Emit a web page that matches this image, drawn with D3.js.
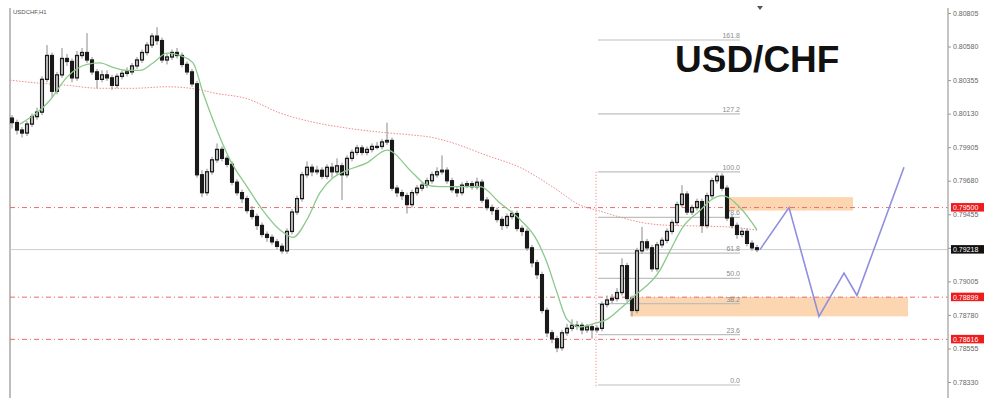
<!DOCTYPE html>
<html><head><meta charset="utf-8">
<script src="https://cdn.jsdelivr.net/npm/d3@7/dist/d3.min.js"></script>
<style>body{margin:0;background:#fff}svg{display:block}</style>
</head><body><svg id="c" width="1000" height="412"></svg>
<script>
// ---- data (USDCHF H1) ----
const symbolLabel = "USDCHF,H1";
const titleText = "USD/CHF";
const firstOpen = 0.8010; // open of first bar; later bars open at previous close
const closes = [
0.8007,0.8002,0.8000,0.8006,0.8011,0.8014,0.8036,0.8052,0.8028,0.8039,
0.8050,0.8048,0.8037,0.8052,0.8054,0.8049,0.8041,0.8036,0.8039,0.8037,
0.8032,0.8038,0.8040,0.8041,0.8045,0.8049,0.8054,0.8059,0.8065,0.8062,
0.8049,0.8051,0.8054,0.8052,0.8046,0.8041,0.8033,0.7972,0.7960,0.7974,
0.7982,0.7989,0.7983,0.7979,0.7967,0.7960,0.7956,0.7948,0.7944,0.7938,
0.7932,0.7930,0.7927,0.7924,0.7921,0.7934,0.7947,0.7956,0.7972,0.7977,
0.7974,0.7975,0.7971,0.7977,0.7974,0.7978,0.7972,0.7983,0.7987,0.7990,
0.7987,0.7989,0.7991,0.7991,0.7994,0.7995,0.7963,0.7960,0.7958,0.7952,
0.7960,0.7963,0.7965,0.7968,0.7972,0.7974,0.7975,0.7968,0.7962,0.7960,
0.7965,0.7966,0.7964,0.7967,0.7955,0.7950,0.7948,0.7942,0.7938,0.7944,
0.7946,0.7936,0.7934,0.7923,0.7913,0.7905,0.7881,0.7866,0.7862,0.7856,
0.7866,0.7869,0.7871,0.7871,0.7868,0.7870,0.7868,0.7869,0.7885,0.7888,
0.7889,0.7893,0.7911,0.7889,0.7881,0.7921,0.7927,0.7923,0.7909,0.7925,
0.7928,0.7934,0.7940,0.7952,0.7959,0.7947,0.7950,0.7954,0.7938,0.7958,
0.7968,0.7971,0.7963,0.7943,0.7938,0.7932,0.7934,0.7926,0.7923,0.79218];
const highs = [
0.8012,0.8009,0.8004,0.8008,0.8013,0.8017,0.8038,0.8059,0.8054,0.8041,
0.8057,0.8053,0.8050,0.8055,0.8057,0.8067,0.8051,0.8043,0.8042,0.8042,
0.8039,0.8040,0.8042,0.8044,0.8047,0.8051,0.8056,0.8061,0.8067,0.8071,
0.8064,0.8053,0.8056,0.8057,0.8054,0.8048,0.8043,0.8035,0.7975,0.7976,
0.7984,0.7993,0.7991,0.7985,0.7981,0.7969,0.7962,0.7958,0.7951,0.7946,
0.7940,0.7934,0.7932,0.7929,0.7926,0.7936,0.7949,0.7958,0.7974,0.7981,
0.7979,0.7978,0.7977,0.7979,0.7980,0.7983,0.7980,0.7985,0.7989,0.7992,
0.7992,0.7991,0.7993,0.7994,0.7996,0.8007,0.7997,0.7965,0.7962,0.7960,
0.7962,0.7965,0.7967,0.7970,0.7974,0.7977,0.7985,0.7977,0.7970,0.7964,
0.7967,0.7968,0.7968,0.7970,0.7969,0.7957,0.7952,0.7950,0.7944,0.7946,
0.7948,0.7948,0.7938,0.7936,0.7925,0.7915,0.7907,0.7883,0.7868,0.7864,
0.7868,0.7872,0.7875,0.7874,0.7873,0.7872,0.7872,0.7871,0.7887,0.7891,
0.7892,0.7896,0.7916,0.7913,0.7891,0.7923,0.7937,0.7929,0.7925,0.7927,
0.7930,0.7936,0.7942,0.7954,0.7965,0.7961,0.7952,0.7956,0.7956,0.7960,
0.7970,0.7973,0.7973,0.7965,0.7945,0.7940,0.7936,0.7936,0.7928,0.7925];
const lows = [
0.8003,0.7999,0.7997,0.7998,0.8004,0.8009,0.8012,0.8034,0.8024,0.8026,
0.8037,0.8045,0.8034,0.8035,0.8050,0.8047,0.8039,0.8030,0.8034,0.8035,
0.8029,0.8030,0.8036,0.8038,0.8039,0.8043,0.8047,0.8052,0.8057,0.8059,
0.8047,0.8046,0.8049,0.8050,0.8044,0.8039,0.8031,0.7970,0.7957,0.7958,
0.7972,0.7980,0.7981,0.7977,0.7965,0.7958,0.7953,0.7946,0.7942,0.7935,
0.7930,0.7927,0.7925,0.7922,0.7919,0.7919,0.7932,0.7945,0.7954,0.7970,
0.7971,0.7972,0.7969,0.7969,0.7970,0.7972,0.7955,0.7970,0.7981,0.7985,
0.7985,0.7985,0.7987,0.7989,0.7989,0.7992,0.7961,0.7957,0.7955,0.7946,
0.7950,0.7958,0.7961,0.7963,0.7966,0.7970,0.7972,0.7966,0.7960,0.7957,
0.7958,0.7963,0.7962,0.7962,0.7953,0.7948,0.7945,0.7940,0.7935,0.7936,
0.7942,0.7934,0.7931,0.7921,0.7910,0.7902,0.7879,0.7863,0.7859,0.7853,
0.7854,0.7864,0.7867,0.7868,0.7865,0.7866,0.7862,0.7866,0.7867,0.7883,
0.7886,0.7887,0.7891,0.7887,0.7877,0.7879,0.7919,0.7921,0.7907,0.7907,
0.7923,0.7926,0.7932,0.7938,0.7950,0.7945,0.7945,0.7948,0.7933,0.7936,
0.7956,0.7966,0.7961,0.7941,0.7936,0.7929,0.7930,0.7924,0.7921,0.7920];

// fast moving average (green)
const fastMaBars   = [1.6,7.6,11,15,17.6,20.2,23,25.6,28.2,31,33.6,36.2,38.2,40.2,43.6,47,50.2,53.6,56.2,59,61.6,64.2,67,71,75,80.2,83,85.6,89.6,93.6,97.6,101.6,105,107,109,111,113.6,116.2,119,121.6,124.2,129.6,131.6,134.2,137.6,140.2,142,145.6,149];
const fastMaPrices = [0.8006,0.8022,0.80375,0.8046,0.8047,0.8044,0.8042,0.8042,0.8047,0.80536,0.8052,0.8047,0.8027,0.80087,0.7982,0.7964,0.7948,0.7935,0.7930,0.7942,0.7960,0.7970,0.7975,0.7980,0.79885,0.7973,0.7965,0.7964,0.7964,0.7964,0.7953,0.7942,0.7928,0.7913,0.7893,0.7875,0.7870,0.7872,0.7875,0.7882,0.7890,0.7908,0.7921,0.7937,0.7948,0.7956,0.7958,0.7950,0.7935];
// slow moving average (red dotted)
const slowMaBars   = [-0.4,3.6,11,17.6,24.2,31,37.6,40.2,47,53.6,60.2,67,73.6,80.2,83.6,88.2,95,101.6,108.2,113.6,117.6,121.6,125.6,130.6,137.6,143.6,149];
const slowMaPrices = [0.80355,0.8034,0.8032,0.8030,0.8030,0.8031,0.8029,0.8027,0.8023,0.80134,0.80073,0.80033,0.80006,0.79986,0.79973,0.79933,0.79849,0.79769,0.79637,0.79517,0.79476,0.79436,0.79402,0.79382,0.79376,0.79369,0.79349];

const axisTicks = [0.80805,0.80580,0.80355,0.80130,0.79905,0.79680,0.79455,0.79230,0.79005,0.78780,0.78555,0.78330];
const redLevels = [0.79500,0.78899,0.78616];
const lastPrice = 0.79218;

const fibRatios = [0,23.6,38.2,50,61.8,78.6,100,127.2,161.8];
const fibLow = 0.7831, fibHigh = 0.7974;
const fibBarStart = 117.2, fibBarEnd = 145.6;

const zoneBarStart = [143,123.6];
const zoneBarEnd   = [168.2,179.2];
const zoneLow      = [0.7948,0.7877];
const zoneHigh     = [0.7957,0.7890];

const projBars   = [149.6,155.4,161.4,166.4,169,178.4];
const projPrices = [0.79218,0.7950,0.7877,0.7906,0.7891,0.7977];

// ---- drawing ----
const svg = d3.select("#c");
const x = d3.scaleLinear().domain([0,149]).range([12,757]);
const y = d3.scaleLinear().domain([0.78330,0.80805]).range([382,13]);
const fmt = d3.format(".5f");
const left = 10, right = 948;
const FONT = "Liberation Sans, Arial, sans-serif";

svg.append("line").attr("x1",left).attr("x2",left).attr("y1",8).attr("y2",398)
  .attr("stroke","#bdbdbd").attr("stroke-width",2);

zoneLow.forEach((lo,i)=>{
  svg.append("rect").attr("x",x(zoneBarStart[i])).attr("width",x(zoneBarEnd[i])-x(zoneBarStart[i]))
    .attr("y",y(zoneHigh[i])).attr("height",y(lo)-y(zoneHigh[i]))
    .attr("fill","#fcd6b0");
});

svg.append("line").attr("x1",left).attr("x2",right).attr("y1",y(lastPrice)).attr("y2",y(lastPrice))
  .attr("stroke","#cfcfcf").attr("stroke-width",1);
redLevels.forEach(p=>{
  svg.append("line").attr("x1",left).attr("x2",right).attr("y1",y(p)).attr("y2",y(p))
    .attr("stroke","#ec6b6b").attr("stroke-width",1).attr("stroke-dasharray","5,3,1,3");
});

const fibPrice = r => fibLow + (fibHigh-fibLow)*r/100;
svg.append("line").attr("x1",x(fibBarStart)-2).attr("x2",x(fibBarStart)-2)
  .attr("y1",y(fibHigh)).attr("y2",y(fibLow)+3)
  .attr("stroke","#e77").attr("stroke-width",1).attr("stroke-dasharray","1,2");
fibRatios.forEach(r=>{
  const yy = y(fibPrice(r));
  svg.append("line").attr("x1",x(fibBarStart)).attr("x2",x(fibBarEnd)).attr("y1",yy).attr("y2",yy)
    .attr("stroke","#bfbfbf").attr("stroke-width",1.2);
  svg.append("text").attr("x",x(fibBarEnd)).attr("y",yy-2).attr("text-anchor","end")
    .attr("font-family",FONT).attr("font-size",7).attr("fill","#8a8a8a")
    .text(r.toFixed(1));
});

svg.append("path").datum(slowMaBars.map((b,i)=>[b,slowMaPrices[i]]))
  .attr("d",d3.line().x(d=>x(d[0])).y(d=>y(d[1])).curve(d3.curveMonotoneX))
  .attr("fill","none").attr("stroke","#f08a8a").attr("stroke-width",1).attr("stroke-dasharray","1.5,1.5");

const opens = closes.map((c,i)=> i===0 ? firstOpen : closes[i-1]);
const g = svg.append("g");
closes.forEach((c,i)=>{
  const o = opens[i], cx = x(i);
  g.append("line").attr("x1",cx).attr("x2",cx).attr("y1",y(highs[i])).attr("y2",y(lows[i]))
    .attr("stroke","#8a8a8a").attr("stroke-width",1);
  const top = y(Math.max(o,c)), bot = y(Math.min(o,c));
  const bull = c >= o;
  g.append("rect").attr("x",cx-1.4).attr("width",2.8).attr("y",top).attr("height",Math.max(1,bot-top))
    .attr("fill", bull ? "#e6e6e6" : "#1a1a1a").attr("stroke","#1a1a1a").attr("stroke-width",1.3);
});

svg.append("path").datum(fastMaBars.map((b,i)=>[b,fastMaPrices[i]]))
  .attr("d",d3.line().x(d=>x(d[0])).y(d=>y(d[1])).curve(d3.curveMonotoneX))
  .attr("fill","none").attr("stroke","#8cc98c").attr("stroke-width",1.3);

svg.append("path").datum(projBars.map((b,i)=>[b,projPrices[i]]))
  .attr("d",d3.line().x(d=>x(d[0])).y(d=>y(d[1])))
  .attr("fill","none").attr("stroke","#8f8fe2").attr("stroke-width",1.6);

svg.append("line").attr("x1",right).attr("x2",right).attr("y1",8).attr("y2",398)
  .attr("stroke","#b0b0b0").attr("stroke-width",1.5);
const ax = svg.append("g").attr("transform",`translate(${right},0)`)
  .call(d3.axisRight(y).tickValues(axisTicks).tickSize(3).tickPadding(2).tickFormat(fmt));
ax.select(".domain").remove();
ax.selectAll("line").attr("stroke","#999");
ax.selectAll("text").attr("font-family",FONT).attr("font-size",7).attr("fill","#666");

function tag(p,col){
  const yy = y(p);
  svg.append("rect").attr("x",right+3).attr("y",yy-4.5).attr("width",33).attr("height",8.5).attr("fill",col);
  svg.append("text").attr("x",right+5).attr("y",yy+2.4)
    .attr("font-family",FONT).attr("font-size",7).attr("fill","#fff").text(fmt(p));
}
redLevels.forEach(p=>tag(p,"#ee1c1c"));
tag(lastPrice,"#111");

svg.append("text").attr("x",13).attr("y",14).attr("font-family",FONT)
  .attr("font-size",6).attr("fill","#555").text(symbolLabel);
svg.append("path").attr("d","M757,6 L763,6 L760,10 Z").attr("fill","#555");
svg.append("text").attr("x",675).attr("y",72).attr("font-family",FONT)
  .attr("font-weight","bold").attr("font-size",37).attr("fill","#111").text(titleText);
</script></body></html>
